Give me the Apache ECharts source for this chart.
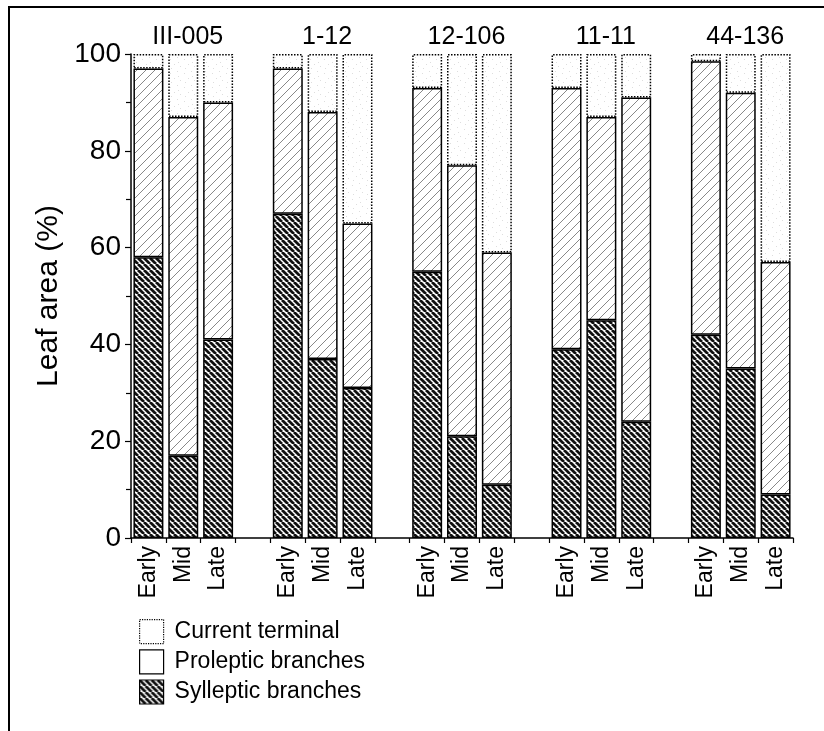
<!DOCTYPE html>
<html>
<head>
<meta charset="utf-8">
<script src="https://cdn.jsdelivr.net/npm/echarts@6/dist/echarts.min.js"></script>
<style>
html,body{margin:0;padding:0;background:#fff;}
#frame{position:absolute;left:8px;top:6px;width:816px;height:725px;border-top:2px solid #000;border-left:2px solid #000;box-sizing:border-box;pointer-events:none;z-index:5;}
#chart{position:absolute;left:0;top:0;width:824px;height:731px;}
</style>
</head>
<body>
<div id="chart"></div>
<div id="frame"></div>
<script>
// ---- data ----
var groups = ['III-005', '1-12', '12-106', '11-11', '44-136'];
var stages = ['Early', 'Mid', 'Late'];
// values per bar (Early, Mid, Late) for each group, in %
var sylleptic = [58, 17, 41,  67, 37, 31,  55, 21, 11,  39, 45, 24,  42, 35, 9];
var proleptic = [39, 70, 49,  30, 51, 34,  38, 56, 48,  54, 42, 67,  56.5, 57, 48];
var currentTerminal = [3, 13, 10,  3, 12, 35,  7, 23, 41,  7, 13, 9,  1.5, 8, 43];
var yTicks = [0, 20, 40, 60, 80, 100];

// ---- build slot layout (3 bars + 1 gap per group, no trailing gap) ----
var slotKeys = [], topLabels = [], sylData = [], proData = [], curData = [];
groups.forEach(function (g, gi) {
  stages.forEach(function (s, si) {
    var i = gi * 3 + si;
    slotKeys.push(gi + '|' + s);
    topLabels.push(si === 1 ? g : '');
    sylData.push(sylleptic[i]);
    proData.push(proleptic[i]);
    curData.push(currentTerminal[i]);
  });
  if (gi < groups.length - 1) {
    slotKeys.push(gi + '|gap');
    topLabels.push('');
    sylData.push(null); proData.push(null); curData.push(null);
  }
});
var topKeys = topLabels.map(function (t, i) { return i + '|' + t; });

// ---- patterns ----
function hatch(size, bg, fg, lw, dir) {
  var c = document.createElement('canvas');
  c.width = c.height = size;
  var g = c.getContext('2d');
  g.fillStyle = bg; g.fillRect(0, 0, size, size);
  g.strokeStyle = fg; g.lineWidth = lw; g.beginPath();
  for (var k = -1; k <= 1; k++) {
    if (dir > 0) { g.moveTo(k * size, size); g.lineTo(k * size + size, 0); }
    else { g.moveTo(k * size, 0); g.lineTo(k * size + size, size); }
  }
  g.stroke();
  return c;
}
function stipple() {
  var c = document.createElement('canvas');
  c.width = c.height = 14;
  var g = c.getContext('2d');
  g.fillStyle = '#fff'; g.fillRect(0, 0, 14, 14);
  g.fillStyle = '#dedede';
  [[2,3],[9,1],[6,8],[12,10],[3,12],[10,6]].forEach(function (p) { g.fillRect(p[0], p[1], 1, 1); });
  return c;
}
var sylPat = { image: hatch(6, '#fff', '#111', 2.8, -1), repeat: 'repeat' };
var proPat = { image: hatch(9, '#fff', '#888', 1, 1), repeat: 'repeat' };
var curPat = { image: stipple(), repeat: 'repeat' };

var FONT = '"Liberation Sans", Arial, Helvetica, sans-serif';
var chart = echarts.init(document.getElementById('chart'), null, { renderer: 'canvas' });
chart.setOption({
  backgroundColor: '#fff',
  animation: false,
  grid: { left: 131, right: 31, top: 54, bottom: 193, containLabel: false },
  legend: {
    orient: 'vertical', left: 134, top: 614,
    itemWidth: 24, itemHeight: 24, itemGap: 5,
    icon: 'rect',
    textStyle: { fontFamily: FONT, fontSize: 23, color: '#000', padding: [0, 0, 0, 6] },
    data: [
      { name: 'Current terminal', itemStyle: { color: '#fff', borderColor: '#000', borderWidth: 1.2, borderType: 'dotted' } },
      { name: 'Proleptic branches', itemStyle: { color: '#fff', borderColor: '#000', borderWidth: 1.2 } },
      { name: 'Sylleptic branches', itemStyle: { color: sylPat, borderColor: '#000', borderWidth: 1.2 } }
    ]
  },
  xAxis: [{
    type: 'category', data: slotKeys, position: 'bottom',
    axisLine: { lineStyle: { color: '#000', width: 1.5 } },
    axisTick: { show: true, interval: 0, length: 5, lineStyle: { color: '#000', width: 1.2 } },
    axisLabel: {
      interval: 0, rotate: 90, margin: 8, fontFamily: FONT, fontSize: 23, color: '#000',
      formatter: function (v) { var s = v.split('|')[1]; return s === 'gap' ? '' : s; }
    }
  }, {
    type: 'category', data: topKeys, position: 'top',
    axisLine: { show: false }, axisTick: { show: false },
    axisLabel: {
      interval: 0, margin: 4, fontFamily: FONT, fontSize: 25, color: '#000', padding: [0, 0, 0, 9],
      formatter: function (v) { return v.split('|')[1]; }
    }
  }],
  yAxis: {
    type: 'value', min: yTicks[0], max: yTicks[yTicks.length - 1], interval: yTicks[1] - yTicks[0],
    name: 'Leaf area (%)', nameLocation: 'middle', nameRotate: 90, nameGap: 58,
    nameTextStyle: { fontFamily: FONT, fontSize: 30, color: '#000' },
    axisLine: { show: true, lineStyle: { color: '#000', width: 1.5 } },
    axisTick: { show: true, length: 6, lineStyle: { color: '#000', width: 1.2 } },
    minorTick: { show: true, splitNumber: 2, length: 5, lineStyle: { color: '#000', width: 1.2 } },
    splitLine: { show: false },
    axisLabel: { margin: 10, fontFamily: FONT, fontSize: 28, color: '#000' }
  },
  series: [
    { name: 'Sylleptic branches', type: 'bar', stack: 'a', data: sylData, barCategoryGap: '14%', z: 4,
      itemStyle: { color: sylPat, borderColor: '#000', borderWidth: 1.5 } },
    { name: 'Proleptic branches', type: 'bar', stack: 'a', data: proData, z: 3,
      itemStyle: { color: proPat, borderColor: '#000', borderWidth: 1.5 } },
    { name: 'Current terminal', type: 'bar', stack: 'a', data: curData, z: 2,
      itemStyle: { color: curPat, borderColor: '#000', borderWidth: 1.5, borderType: 'dotted' } }
  ]
});
</script>
</body>
</html>
